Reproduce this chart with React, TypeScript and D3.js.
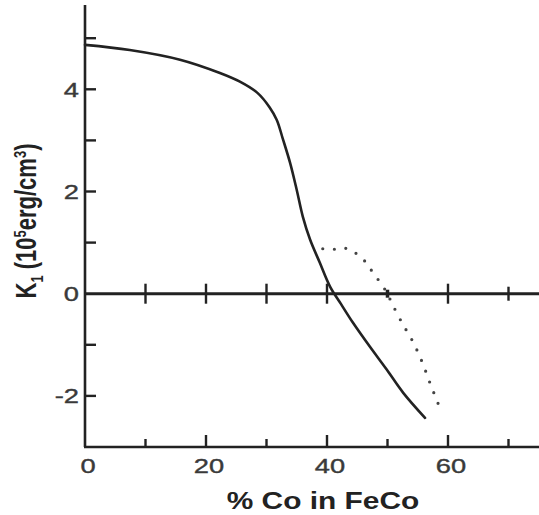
import React, { useRef, useEffect } from 'react';
import * as d3 from 'd3';

// K1 vs % Co, solid curve (x = % Co, y = K1 in 1e5 erg/cm^3)
const solidX = [0, 7.4, 15.7, 22.3, 25.6, 28.5, 30.5, 31.7, 32.7, 33.9, 35.0, 36.0, 37.2, 38.8, 40.5, 42.3, 44.3, 47.1, 49.9, 52.6, 56.2];
const solidY = [4.87, 4.77, 4.58, 4.32, 4.15, 3.93, 3.65, 3.4, 3.03, 2.56, 2.03, 1.51, 1.06, 0.61, 0.14, -0.2, -0.57, -1.04, -1.49, -1.94, -2.43];

// dotted curve
const dotX = [39.3, 41.4, 43.5, 45.3, 46.6, 47.6, 48.8, 49.9, 50.7, 52.4, 54.2, 55.7, 57.0, 58.3, 59.0];
const dotY = [0.88, 0.87, 0.88, 0.74, 0.59, 0.41, 0.22, 0.02, -0.18, -0.57, -0.94, -1.33, -1.74, -2.13, -2.33];

const xTicks = [10, 20, 30, 40, 50, 60, 70];
const xTickLabels = [0, 20, 40, 60];
const yTicks = [-2, -1, 1, 2, 3, 4, 5];
const yTickLabels = [4, 2, 0, -2];

const FONT = "'Liberation Sans', Arial, Helvetica, sans-serif";
const INK = '#222';

const App = () => {
  const ref = useRef<SVGSVGElement>(null);

  useEffect(() => {
    if (!ref.current) return;
    const svg = d3.select(ref.current);
    svg.selectAll('*').remove();

    const x = d3.scaleLinear().domain([0, 75]).range([85, 85 + 75 * 6.05]);
    const y = d3.scaleLinear().domain([-3, 5]).range([447, 447 - 8 * 51.1]);
    const stretch = 'scale(1.3,1)';

    // axes
    svg.append('line')
      .attr('x1', x(0)).attr('x2', x(0))
      .attr('y1', y(5.65)).attr('y2', y(-3))
      .attr('stroke', INK).attr('stroke-width', 2.6);
    svg.append('line')
      .attr('x1', x(0) - 1).attr('x2', 539)
      .attr('y1', y(-3)).attr('y2', y(-3))
      .attr('stroke', INK).attr('stroke-width', 2.6);
    svg.append('line')
      .attr('x1', x(0)).attr('x2', 539)
      .attr('y1', y(0)).attr('y2', y(0))
      .attr('stroke', INK).attr('stroke-width', 3);

    // y ticks
    svg.selectAll('.yt').data(yTicks).enter().append('line')
      .attr('x1', x(0)).attr('x2', x(0) + 11)
      .attr('y1', d => y(d)).attr('y2', d => y(d))
      .attr('stroke', INK).attr('stroke-width', 2.4);

    // bottom ticks (inward)
    svg.selectAll('.xb').data(xTicks).enter().append('line')
      .attr('x1', d => x(d)).attr('x2', d => x(d))
      .attr('y1', y(-3)).attr('y2', d => y(-3) - (d % 20 === 0 ? 12 : 8))
      .attr('stroke', INK).attr('stroke-width', 2.4);

    // zero-line ticks (crossing)
    svg.selectAll('.xz').data(xTicks).enter().append('line')
      .attr('x1', d => x(d)).attr('x2', d => x(d))
      .attr('y1', d => y(0) - (d === 50 ? 4 : d === 70 ? 7 : 10))
      .attr('y2', d => y(0) + (d === 50 ? 4 : d === 70 ? 7 : 10))
      .attr('stroke', INK).attr('stroke-width', d => (d === 50 ? 3.5 : 2.4));

    // tick labels
    svg.selectAll('.xl').data(xTickLabels).enter().append('text')
      .attr('transform', d => `translate(${x(d) + 3},473) ${stretch}`)
      .attr('text-anchor', 'middle')
      .attr('font-family', FONT).attr('font-size', 21).attr('fill', '#3a3a3a')
      .attr('stroke', '#3a3a3a').attr('stroke-width', 0.4)
      .text(d => d);
    svg.selectAll('.yl').data(yTickLabels).enter().append('text')
      .attr('transform', d => `translate(79,${y(d) + 7.5}) ${stretch}`)
      .attr('text-anchor', 'end')
      .attr('font-family', FONT).attr('font-size', 21).attr('fill', '#3a3a3a')
      .attr('stroke', '#3a3a3a').attr('stroke-width', 0.4)
      .text(d => d);

    // x axis title
    svg.append('text')
      .attr('transform', `translate(323,509) ${stretch}`)
      .attr('text-anchor', 'middle')
      .attr('font-family', FONT).attr('font-size', 23).attr('font-weight', 'bold').attr('fill', INK)
      .text('% Co in FeCo');

    // y axis title
    const yt = svg.append('text')
      .attr('transform', `translate(36,221) ${stretch} rotate(-90)`)
      .attr('text-anchor', 'middle')
      .attr('font-family', FONT).attr('font-size', 22).attr('font-weight', 'bold').attr('fill', INK);
    yt.append('tspan').text('K');
    yt.append('tspan').attr('font-size', 13).attr('dy', 5).text('1');
    yt.append('tspan').attr('dy', -5).text(' (10');
    yt.append('tspan').attr('font-size', 13).attr('dy', -8).text('5');
    yt.append('tspan').attr('dy', 8).text('erg/cm');
    yt.append('tspan').attr('font-size', 13).attr('dy', -8).text('3');
    yt.append('tspan').attr('dy', 8).text(')');

    // curves
    const line = d3.line<[number, number]>()
      .x(d => x(d[0]))
      .y(d => y(d[1]))
      .curve(d3.curveCatmullRom.alpha(0.5));

    const solid = solidX.map((v, i) => [v, solidY[i]] as [number, number]);
    const dotted = dotX.map((v, i) => [v, dotY[i]] as [number, number]);

    svg.append('path')
      .datum(solid)
      .attr('fill', 'none')
      .attr('stroke', INK)
      .attr('stroke-width', 2.6)
      .attr('stroke-linejoin', 'round')
      .attr('stroke-linecap', 'round')
      .attr('d', line);

    svg.append('path')
      .datum(dotted)
      .attr('fill', 'none')
      .attr('stroke', '#444')
      .attr('stroke-width', 3.2)
      .attr('stroke-linecap', 'round')
      .attr('stroke-dasharray', '0 11.5')
      .attr('d', line);
  }, []);

  return (
    <svg
      ref={ref}
      width={539}
      height={515}
      style={{ position: 'absolute', left: 0, top: 0, background: '#fff' }}
    />
  );
};

export default App;
